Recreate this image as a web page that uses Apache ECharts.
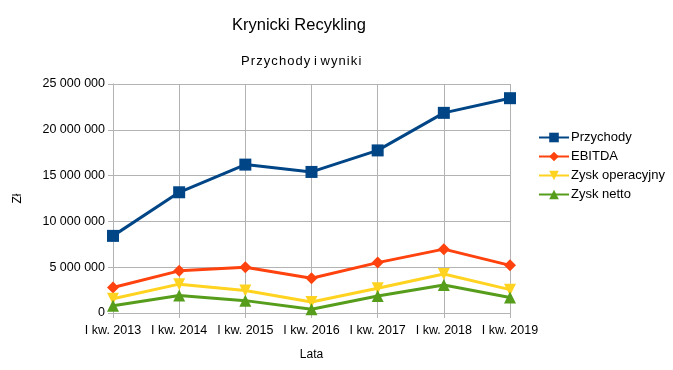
<!DOCTYPE html>
<html><head><meta charset="utf-8">
<script src="https://cdn.jsdelivr.net/npm/echarts@6/dist/echarts.min.js"></script>
<style>html,body{margin:0;padding:0;background:#fff}#c{width:673px;height:370px}</style>
</head><body><div id="c"></div>
<script>
const categories = ['I kw. 2013','I kw. 2014','I kw. 2015','I kw. 2016','I kw. 2017','I kw. 2018','I kw. 2019'];
const przychody = [8420000, 13180000, 16200000, 15400000, 17750000, 21850000, 23450000];
const ebitda = [2790000, 4600000, 5000000, 3800000, 5500000, 6970000, 5200000];
const zyskOperacyjny = [1550000, 3150000, 2450000, 1200000, 2700000, 4250000, 2550000];
const zyskNetto = [800000, 1900000, 1350000, 400000, 1850000, 3050000, 1700000];
const seriesNames = ['Przychody','EBITDA','Zysk operacyjny','Zysk netto'];

const font = 'Liberation Sans, Arial, sans-serif';
const fmt = v => String(v).replace(/\B(?=(\d{3})+(?!\d))/g, ' ');
const chart = echarts.init(document.getElementById('c'));
function mk(name, data, color, symbol, size, rot) {
  return {name, type:'line', data, symbol, symbolSize:size, symbolRotate:rot||0,
    lineStyle:{color, width:3}, itemStyle:{color}, animation:false, z: 10};
}
chart.setOption({
  animation:false,
  title:[
    {text:'Krynicki Recykling', left:227, top:12, textStyle:{fontFamily:font, fontSize:16.5, fontWeight:'normal', color:'#000'}},
    {text:'P\u200Ar\u200Az\u200Ay\u200Ac\u200Ah\u200Ao\u200Ad\u200Ay i w\u200Ay\u200An\u200Ai\u200Ak\u200Ai', left:236, top:50, textStyle:{fontFamily:font, fontSize:13, fontWeight:'normal', color:'#000'}}
  ],
  grid:{left:113, top:84, width:397, height:229, containLabel:false},
  legend:{orient:'vertical', left:533, top:126, itemGap:6, itemWidth:30, itemHeight:12,
    textStyle:{fontFamily:font, fontSize:13, color:'#000', padding:[0,0,0,-3]},
    data:seriesNames},
  xAxis:{type:'category', data:categories, boundaryGap:false,
    name:'Lata', nameLocation:'middle', nameGap:36, nameTextStyle:{fontFamily:font, fontSize:12, color:'#000'},
    axisLine:{lineStyle:{color:'#b3b3b3', width:1}},
    axisTick:{show:true, length:5, alignWithLabel:true, lineStyle:{color:'#b3b3b3'}},
    axisLabel:{fontFamily:font, fontSize:12.5, color:'#000', margin:11, interval:0},
    splitLine:{show:true, lineStyle:{color:'#b3b3b3'}}},
  yAxis:{type:'value', min:0, max:25000000, interval:5000000,
    name:'Zł', nameLocation:'middle', nameGap:89, nameTextStyle:{fontFamily:font, fontSize:12, color:'#000'},
    axisLine:{show:true, lineStyle:{color:'#b3b3b3'}},
    axisTick:{show:true, length:5, lineStyle:{color:'#b3b3b3'}},
    axisLabel:{fontFamily:font, fontSize:12.5, color:'#000', margin:8, formatter:fmt},
    splitLine:{show:true, lineStyle:{color:'#b3b3b3'}}},
  series:[
    mk('Przychody', przychody, '#004586', 'rect', 12),
    mk('EBITDA', ebitda, '#ff420e', 'diamond', 12),
    mk('Zysk operacyjny', zyskOperacyjny, '#ffd320', 'triangle', 12, 180),
    mk('Zysk netto', zyskNetto, '#579d1c', 'triangle', 12)
  ]
});
</script></body></html>
